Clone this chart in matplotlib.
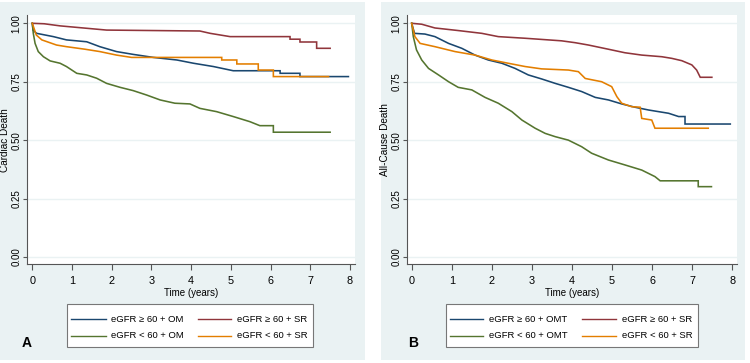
import matplotlib
matplotlib.use("Agg")
import matplotlib.pyplot as plt
from matplotlib.patches import Rectangle
from matplotlib.lines import Line2D

plt.rcParams['font.family'] = ['Liberation Sans', 'DejaVu Sans']
FONT = ['Liberation Sans', 'DejaVu Sans']

# ---------------- data ----------------
xticks = [0, 1, 2, 3, 4, 5, 6, 7, 8]
yticks = [0.0, 0.25, 0.5, 0.75, 1.0]
ytick_labels = ["0.00", "0.25", "0.50", "0.75", "1.00"]

# Panel A: Cardiac death
a_t_ge60_om = [0, 0.02, 0.11, 0.53, 0.86, 1.37, 1.70, 2.12, 2.54, 3.05, 3.64, 4.06, 4.56, 5.06, 6.24, 6.24, 6.74, 6.74, 7.96]
a_v_ge60_om = [1.0, 0.97, 0.957, 0.943, 0.929, 0.921, 0.90, 0.879, 0.867, 0.854, 0.843, 0.829, 0.815, 0.797, 0.797, 0.786, 0.786, 0.772, 0.772]
a_t_ge60_sr = [0, 0.3, 0.70, 1.87, 4.22, 4.48, 4.98, 6.49, 6.49, 6.74, 6.74, 7.16, 7.16, 7.50]
a_v_ge60_sr = [1.0, 0.998, 0.989, 0.971, 0.967, 0.957, 0.943, 0.943, 0.932, 0.932, 0.920, 0.920, 0.893, 0.893]
a_t_lt60_om = [0, 0.025, 0.07, 0.15, 0.28, 0.45, 0.70, 0.86, 1.12, 1.37, 1.62, 1.87, 2.21, 2.54, 2.88, 3.22, 3.59, 3.97, 4.22, 4.64, 5.06, 5.48, 5.73, 6.07, 6.07, 7.50]
a_v_lt60_om = [1.0, 0.957, 0.914, 0.879, 0.857, 0.839, 0.829, 0.815, 0.786, 0.779, 0.765, 0.743, 0.726, 0.712, 0.693, 0.672, 0.658, 0.655, 0.636, 0.622, 0.601, 0.579, 0.562, 0.562, 0.534, 0.534]
a_t_lt60_sr = [0, 0.1, 0.24, 0.61, 0.86, 1.33, 1.70, 2.12, 2.50, 4.77, 4.77, 5.15, 5.15, 5.69, 5.69, 6.07, 6.07, 7.46]
a_v_lt60_sr = [1.0, 0.95, 0.929, 0.907, 0.90, 0.889, 0.879, 0.864, 0.854, 0.854, 0.843, 0.843, 0.826, 0.826, 0.80, 0.80, 0.772, 0.772]

# Panel B: All-cause death
b_t_ge60_omt = [0, 0.07, 0.33, 0.58, 0.92, 1.25, 1.58, 1.91, 2.25, 2.58, 2.91, 3.24, 3.58, 3.91, 4.24, 4.58, 4.91, 5.24, 5.57, 5.91, 6.41, 6.66, 6.82, 6.82, 7.95]
b_v_ge60_omt = [1.0, 0.957, 0.954, 0.943, 0.914, 0.893, 0.864, 0.843, 0.829, 0.807, 0.779, 0.762, 0.743, 0.726, 0.708, 0.683, 0.672, 0.655, 0.641, 0.629, 0.615, 0.601, 0.601, 0.569, 0.569]
b_t_ge60_sr = [0, 0.25, 0.58, 1.16, 1.75, 2.16, 2.83, 3.41, 3.74, 4.08, 4.41, 4.91, 5.32, 5.74, 6.24, 6.49, 6.74, 6.99, 7.11, 7.20, 7.49]
b_v_ge60_sr = [1.0, 0.996, 0.98, 0.969, 0.957, 0.943, 0.936, 0.929, 0.925, 0.917, 0.907, 0.889, 0.874, 0.864, 0.857, 0.85, 0.84, 0.822, 0.80, 0.769, 0.769]
b_t_lt60_omt = [0, 0.04, 0.12, 0.25, 0.42, 0.67, 0.92, 1.16, 1.50, 1.83, 2.16, 2.50, 2.75, 3.08, 3.33, 3.58, 3.91, 4.24, 4.49, 4.91, 5.32, 5.74, 6.07, 6.20, 7.15, 7.15, 7.48]
b_v_lt60_omt = [1.0, 0.943, 0.886, 0.843, 0.807, 0.779, 0.75, 0.726, 0.715, 0.683, 0.658, 0.622, 0.586, 0.551, 0.529, 0.515, 0.50, 0.472, 0.444, 0.415, 0.394, 0.372, 0.344, 0.326, 0.326, 0.301, 0.301]
b_t_lt60_sr = [0, 0.08, 0.21, 0.58, 1.08, 1.58, 2.0, 2.41, 2.83, 3.24, 3.91, 4.16, 4.33, 4.74, 4.99, 5.12, 5.24, 5.49, 5.70, 5.74, 5.99, 6.07, 7.40]
b_v_lt60_sr = [1.0, 0.943, 0.914, 0.90, 0.879, 0.864, 0.843, 0.829, 0.815, 0.805, 0.80, 0.793, 0.764, 0.75, 0.729, 0.686, 0.658, 0.643, 0.641, 0.593, 0.586, 0.551, 0.551]

labels_a = ["eGFR ≥ 60 + OM", "eGFR ≥ 60 + SR", "eGFR < 60 + OM", "eGFR < 60 + SR"]
labels_b = ["eGFR ≥ 60 + OMT", "eGFR ≥ 60 + SR", "eGFR < 60 + OMT", "eGFR < 60 + SR"]

# ---------------- style ----------------
C_BLUE = "#1a476f"
C_RED = "#90353b"
C_GREEN = "#55752f"
C_ORANGE = "#e37e00"
BG = "#eaf2f3"
GRID = "#eaf2f3"
AXC = "#555555"

W, H = 750, 363
fig = plt.figure(figsize=(W / 100, H / 100), dpi=100)
fig.patch.set_facecolor("white")


def fx(px):
    return px / W


def fy(py):
    return 1 - py / H


# panel backgrounds
fig.patches.append(Rectangle((fx(0), fy(360)), fx(365) - fx(0), fy(2) - fy(360),
                             transform=fig.transFigure, facecolor=BG, edgecolor="none", zorder=-5))
fig.patches.append(Rectangle((fx(381), fy(360)), fx(745) - fx(381), fy(2) - fy(360),
                             transform=fig.transFigure, facecolor=BG, edgecolor="none", zorder=-5))


def make_panel(left, right, x0px, x8px, ylabel, series, labels, legbox, leg_cols):
    top, bottom = 15, 264
    y1px, y0px = 23.3, 257.0
    ax = fig.add_axes([fx(left), fy(bottom), fx(right) - fx(left), fy(top) - fy(bottom)])
    ax.set_zorder(1)
    ax.set_facecolor("white")
    ppy = (x8px - x0px) / 8.0
    ax.set_xlim(-(x0px - left) / ppy, 8 + (right - x8px) / ppy)
    ppv = (y0px - y1px)
    ax.set_ylim(-(bottom - y0px) / ppv, 1 + (y1px - top) / ppv)
    for s in ["top", "right"]:
        ax.spines[s].set_visible(False)
    for s in ["left", "bottom"]:
        ax.spines[s].set_color(AXC)
        ax.spines[s].set_linewidth(0.8)
    ax.set_xticks(xticks)
    ax.set_xticklabels([str(x) for x in xticks], family=FONT, fontsize=7.8)
    ax.set_yticks(yticks)
    ax.set_yticklabels(ytick_labels, rotation=90, va="center", family=FONT, fontsize=7)
    ax.tick_params(axis="x", colors=AXC, labelcolor="black", length=4.2, width=0.8, pad=4.5)
    ax.tick_params(axis="y", colors=AXC, labelcolor="black", length=3, width=0.8, pad=0.8)
    for yv in yticks:
        ax.axhline(yv, color=GRID, lw=1.0, zorder=1)
    for (t, v, c) in series:
        ax.plot(t, v, color=c, lw=1.15, zorder=3, solid_joinstyle="miter")
    fig.text(fx((x0px + x8px) / 2), fy(293), "Time (years)", ha="center", va="center",
             family=FONT, fontsize=7)
    fig.text(fx(left - 22), fy(140), ylabel, rotation=90, ha="center", va="center",
             family=FONT, fontsize=7.2)

    # legend box
    lx0, lx1, ly0, ly1 = legbox
    fig.patches.append(Rectangle((fx(lx0), fy(ly1)), fx(lx1) - fx(lx0), fy(ly0) - fy(ly1),
                                 transform=fig.transFigure, facecolor="white", edgecolor="#777777",
                                 lw=0.8, zorder=2))
    rows = [319, 336]
    colors = [s[2] for s in series]
    for i, (lab, c) in enumerate(zip(labels, colors)):
        col = i % 2
        row = i // 2
        l0, l1, tx = leg_cols[col]
        fig.lines.append(Line2D([fx(l0), fx(l1)], [fy(rows[row]), fy(rows[row])],
                                transform=fig.transFigure, color=c, lw=1.0, zorder=3))
        fig.text(fx(tx), fy(rows[row]), lab, ha="left", va="center", family=FONT,
                 fontsize=6.8, zorder=3)
    return ax


series_a = [(a_t_ge60_om, a_v_ge60_om, C_BLUE), (a_t_ge60_sr, a_v_ge60_sr, C_RED),
            (a_t_lt60_om, a_v_lt60_om, C_GREEN), (a_t_lt60_sr, a_v_lt60_sr, C_ORANGE)]
series_b = [(b_t_ge60_omt, b_v_ge60_omt, C_BLUE), (b_t_ge60_sr, b_v_ge60_sr, C_RED),
            (b_t_lt60_omt, b_v_lt60_omt, C_GREEN), (b_t_lt60_sr, b_v_lt60_sr, C_ORANGE)]

make_panel(26.7, 355, 32.3, 350, "Cardiac Death", series_a, labels_a,
           (67.2, 313, 304, 346.5), [(71, 105.5, 111), (198.2, 231.5, 237)])
make_panel(406.7, 737, 411.7, 732.3, "All-Cause Death", series_b, labels_b,
           (445.7, 698.3, 304, 346.5), [(450, 483.3, 489.3), (582.3, 616, 621.7)])

fig.text(fx(26.7), fy(343), "A", ha="center", va="center", fontsize=10, fontweight="bold")
fig.text(fx(413.3), fy(343), "B", ha="center", va="center", fontsize=10, fontweight="bold")

fig.savefig("out.png", dpi=100)
